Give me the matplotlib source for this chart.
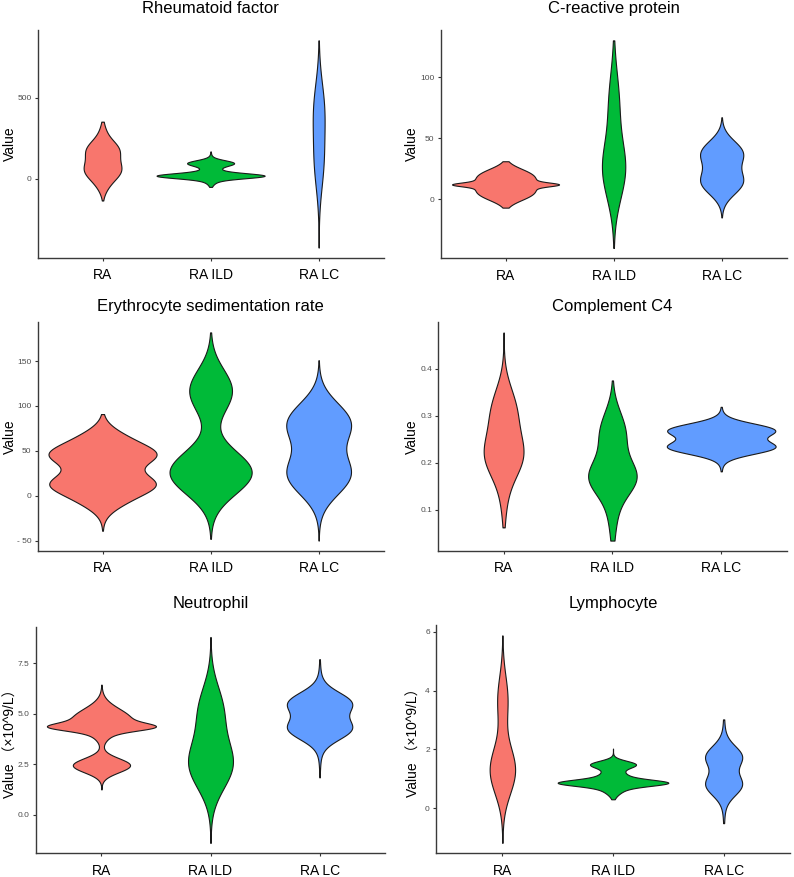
import numpy as np
import matplotlib
matplotlib.use("Agg")
import matplotlib.pyplot as plt

plt.rcParams['font.family'] = ['Liberation Sans', 'Noto Sans CJK SC', 'DejaVu Sans']

groups = ['RA', 'RA ILD', 'RA LC']
colors = ['#F8766D', '#00BA38', '#619CFF']

titles = ['Rheumatoid factor', 'C-reactive protein', 'Erythrocyte sedimentation rate',
          'Complement C4', 'Neutrophil', 'Lymphocyte']
ylabels = ['Value', 'Value', 'Value', 'Value',
           'Value \uff08\u00d710^9/L\uff09', 'Value \uff08\u00d710^9/L\uff09']
yticks = [[0, 500], [0, 50, 100], [-50, 0, 50, 100, 150],
          [0.1, 0.2, 0.3, 0.4], [0.0, 2.5, 5.0, 7.5], [0, 2, 4, 6]]
ytick_labels = [['0', '500'], ['0', '50', '100'], ['- 50', '0', '50', '100', '150'],
                ['0.1', '0.2', '0.3', '0.4'], ['0.0', '2.5', '5.0', '7.5'], ['0', '2', '4', '6']]

# data range (min, max) of each violin, per panel
rf_range = [(-135, 352), (-51, 168), (-426, 854)]
crp_range = [(-7, 31), (-40, 130), (-15, 67)]
esr_range = [(-39, 91), (-48, 182), (-50, 151)]
c4_range = [(0.063, 0.477), (0.035, 0.375), (0.182, 0.319)]
neu_range = [(1.25, 6.44), (-1.4, 8.8), (1.85, 7.7)]
lym_range = [(-1.17, 5.87), (0.31, 2.03), (-0.5, 3.02)]

# widest half-width of each violin (in category units)
rf_width = [0.175, 0.5, 0.055]
crp_width = [0.495, 0.108, 0.2]
esr_width = [0.5, 0.38, 0.3]
c4_width = [0.183, 0.223, 0.5]
neu_width = [0.5, 0.206, 0.3]
lym_width = [0.115, 0.5, 0.168]

# density modes: (centre, spread, weight)
rf_modes = [[(50, 60, 1.0), (180, 60, 0.9), (300, 50, 0.1), (-50, 50, 0.15)],
            [(18, 15, 1.0), (97, 17, 0.45), (50, 45, 0.18), (10, 30, 0.15)],
            [(430, 170, 1.0), (100, 170, 0.85)]]
crp_modes = [[(12, 1.5, 0.45), (4, 5.5, 0.45), (20, 5.5, 0.45), (12, 5, 0.3)],
             [(26, 22, 1.0), (78, 26, 0.5), (0, 20, 0.15)],
             [(14, 10, 1.0), (38, 10, 1.0)]]
esr_modes = [[(46, 10, 0.45), (13, 10, 0.45), (62, 12, 0.3), (-3, 12, 0.3), (30, 22, 0.5)],
             [(26, 24, 1.0), (117, 24, 0.52)],
             [(82, 22, 1.0), (23, 22, 1.0), (53, 20, 0.1)]]
c4_modes = [[(0.215, 0.045, 1.0), (0.31, 0.05, 0.7), (0.13, 0.05, 0.15)],
            [(0.17, 0.035, 0.8), (0.14, 0.07, 0.3), (0.265, 0.045, 0.55)],
            [(0.233, 0.014, 1.0), (0.27, 0.014, 1.0), (0.25, 0.03, 0.15)]]
neu_modes = [[(4.35, 0.18, 0.5), (4.7, 0.55, 0.5), (2.45, 0.35, 0.48)],
             [(2.5, 1.2, 1.0), (5.2, 1.2, 0.55)],
             [(4.25, 0.52, 1.0), (5.55, 0.52, 1.0), (4.9, 1.2, 0.2)]]
lym_modes = [[(1.3, 0.8, 1.0), (3.7, 0.8, 0.4)],
             [(0.87, 0.1, 0.7), (0.85, 0.25, 0.35), (1.5, 0.12, 0.4), (1.2, 0.2, 0.1)],
             [(0.8, 0.35, 1.0), (1.77, 0.35, 1.0), (1.3, 0.9, 0.25)]]

panels = [(rf_range, rf_width, rf_modes), (crp_range, crp_width, crp_modes),
          (esr_range, esr_width, esr_modes), (c4_range, c4_width, c4_modes),
          (neu_range, neu_width, neu_modes), (lym_range, lym_width, lym_modes)]

W, H = 794, 877
# axes boxes in pixels: left, top, right, bottom
boxes = [(37.7, 30, 383.5, 258), (440.7, 30, 786.5, 258.3),
         (37.7, 322, 383.5, 551), (438.3, 322, 786.5, 551),
         (36, 626.7, 385, 853.3), (436, 625, 790, 853.3)]
title_y = [8.5, 8.5, 306, 306.5, 603.5, 603.5]
ylabel_x = [17, 419, 17, 419, 18, 421]


def violin_stats(lo, hi, modes):
    coords = np.linspace(lo, hi, 400)
    vals = np.zeros_like(coords)
    for m, s, w in modes:
        vals += w * np.exp(-0.5 * ((coords - m) / s) ** 2)
    return dict(coords=coords, vals=vals, mean=np.nan, median=np.nan, min=lo, max=hi)


fig = plt.figure(figsize=(W / 100, H / 100), dpi=100)

for k, (rng, wid, modes) in enumerate(panels):
    l, t, r, b = boxes[k]
    ax = fig.add_axes([l / W, 1 - b / H, (r - l) / W, (b - t) / H])

    stats = [violin_stats(lo, hi, m) for (lo, hi), m in zip(rng, modes)]
    parts = ax.violin(stats, positions=[1, 2, 3], widths=[2 * w for w in wid],
                      showmeans=False, showextrema=False, showmedians=False)
    for body, c in zip(parts['bodies'], colors):
        body.set_facecolor(c)
        body.set_edgecolor('#1a1a1a')
        body.set_linewidth(0.8)
        body.set_alpha(1)

    # ggplot-like expansion: 5% of data range, 0.6 on discrete axis
    ymin = min(lo for lo, hi in rng)
    ymax = max(hi for lo, hi in rng)
    pad = 0.05 * (ymax - ymin)
    ax.set_ylim(ymin - pad, ymax + pad)
    ax.set_xlim(0.4, 3.6)

    ax.set_xticks([1, 2, 3])
    ax.set_xticklabels(groups, fontsize=10, color='black')
    ax.set_yticks(yticks[k])
    ax.set_yticklabels(ytick_labels[k], fontsize=6, color='#4d4d4d')
    ax.tick_params(axis='both', length=2.5, width=0.8, color='#333333', pad=2)
    ax.tick_params(axis='x', pad=5)

    for side in ['top', 'right']:
        ax.spines[side].set_visible(False)
    for side in ['left', 'bottom']:
        ax.spines[side].set_color('#3a3a3a')
        ax.spines[side].set_linewidth(1.0)

    ax.set_ylabel(ylabels[k], fontsize=10)
    ax.yaxis.set_label_coords((ylabel_x[k] - l) / (r - l), 0.5)

    fig.text((l + r) / 2 / W, 1 - title_y[k] / H, titles[k], ha='center', va='center',
             fontsize=12, color='black')

fig.savefig('out.png', dpi=100, facecolor='white')
